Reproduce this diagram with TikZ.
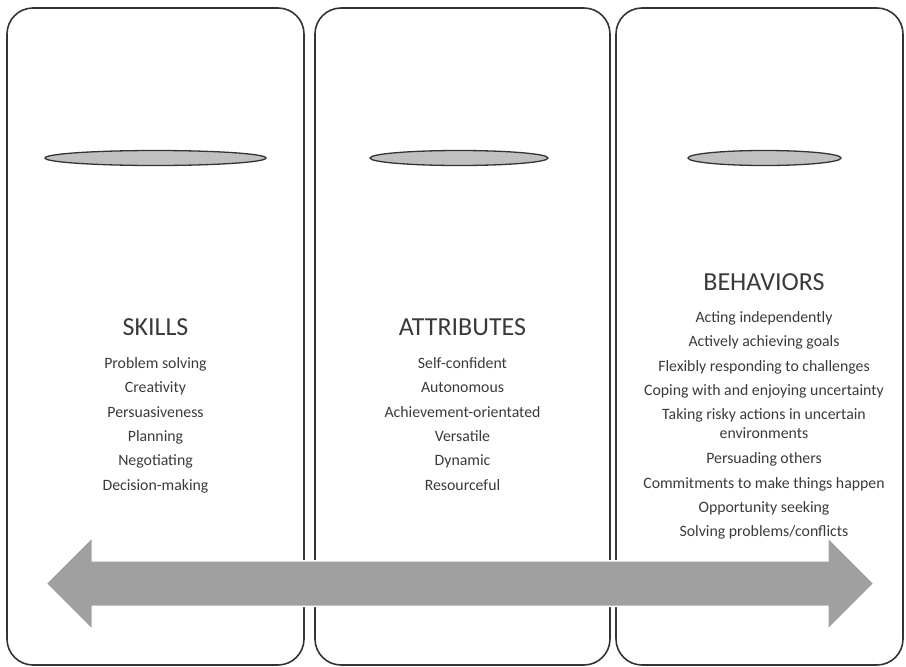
\documentclass[tikz,border=0pt]{standalone}
\usepackage{fontspec}
\setmainfont{Carlito}
\usetikzlibrary{positioning,shapes.geometric,shapes.arrows}
\definecolor{panelgray}{RGB}{52,52,52}
\definecolor{discgray} {RGB}{192,192,192}
\definecolor{spangray} {RGB}{160,160,160}
\definecolor{textgray} {RGB}{58,58,58}

\begin{document}
\begin{tikzpicture}[
  x=1pt, y=-1pt,
  every node/.style={text=textgray, align=center, inner sep=0pt},
  panel/.style={draw=panelgray, line width=1.6pt, rounded corners=26pt, minimum height=657pt},
  disc/.style={draw=panelgray, fill=discgray, line width=1.3pt, ellipse, minimum height=15pt},
  heading/.style={font=\fontsize{26}{30}\selectfont, anchor=base},
  items/.style={font=\fontsize{15.8}{24.3}\selectfont},
  span/.style={double arrow, fill=spangray, draw=white, line width=1.5pt, inner ysep=22pt,
    double arrow head extend=23.5pt, minimum width=91pt, minimum height=828pt}
]
  \useasboundingbox (0,0) rectangle (906,667);

  % Panels
  \node (skillspanel) [panel, minimum width=297pt] at (155.5,336.5) {};
  \node (attrpanel)   [panel, minimum width=295pt] at (462.5,336.5) {};
  \node (behavpanel)  [panel, minimum width=287pt] at (759.5,336.5) {};

  \node (skillsdisc) [disc, minimum width=221pt] at (155.5,158) {};
  \node (attrdisc)   [disc, minimum width=178pt] at (459,158) {};
  \node (behavdisc)  [disc, minimum width=153pt] at (764.5,158) {};

  % Texts
  \node (skills) [heading] at (155.5,335) {SKILLS};
  \node (skillslist) [items, below=22pt of skills] {Problem solving\\Creativity\\Persuasiveness\\Planning\\Negotiating\\Decision-making};

  \node (attr) [heading] at (462.5,335) {ATTRIBUTES};
  \node (attrlist) [items, below=22pt of attr] {Self-confident\\Autonomous\\Achievement-orientated\\Versatile\\Dynamic\\Resourceful};

  \node (behav) [heading] at (764,290) {BEHAVIORS};
  \node (behavlist) [items, below=21pt of behav] {Acting independently\\Actively achieving goals\\Flexibly responding to challenges\\Coping with and enjoying uncertainty\\Taking risky actions in uncertain\\[-6pt]environments\\[1.5pt]Persuading others\\Commitments to make things happen\\Opportunity seeking\\Solving problems/conflicts};

  % Arrow
  \node (span) [span] at (460,583.5) {};
\end{tikzpicture}
\end{document}
